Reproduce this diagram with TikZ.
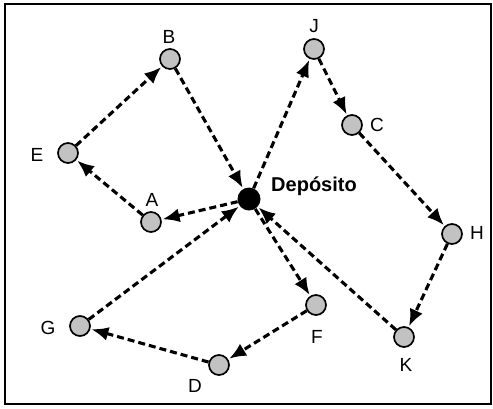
\documentclass[tikz,border=0pt]{standalone}
\usepackage{fontspec}
\setmainfont{Liberation Sans}
\usetikzlibrary{arrows.meta}
\begin{document}
\begin{tikzpicture}[x=1pt,y=-1pt,
  client/.style={circle,draw=black,line width=1.7pt,fill=black!24,minimum size=20pt,inner sep=0pt},
  depot/.style={circle,fill=black,minimum size=23pt,inner sep=0pt},
  lbl/.style={font=\fontsize{19}{21}\selectfont,inner sep=0pt},
  route/.style={line width=3.1pt,dash pattern=on 7pt off 4pt,-{Latex[length=17pt,width=14pt]},shorten >=1pt}]
\useasboundingbox (0,0) rectangle (493,408);
\draw[line width=2pt] (4.5,3.5) rectangle (491,403.5);
\node[depot] (dep) at (249,199) {};
\node[client] (B) at (170,59) {};
\node[client] (J) at (314,49) {};
\node[client] (C) at (352,125) {};
\node[client] (E) at (68,153) {};
\node[client] (A) at (151,222) {};
\node[client] (H) at (452,234) {};
\node[client] (F) at (316,305) {};
\node[client] (G) at (80,326) {};
\node[client] (K) at (404,337) {};
\node[client] (D) at (219,365) {};
\node[lbl] (lB) at (169,37) {B};
\node[lbl] (lJ) at (314,26) {J};
\node[lbl] (lC) at (377,125) {C};
\node[lbl] (lE) at (37,155) {E};
\node[lbl] (lA) at (152,200) {A};
\node[lbl] (lH) at (477,233) {H};
\node[lbl] (lF) at (317,337) {F};
\node[lbl] (lG) at (48,328) {G};
\node[lbl] (lK) at (406,365) {K};
\node[lbl] (lD) at (195,386) {D};
\node[lbl,font=\fontsize{20}{22}\selectfont\bfseries] (ldep) at (314,186) {Depósito};
\draw[route] (B) -- (dep);
\draw[route] (dep) -- (A);
\draw[route] (A) -- (E);
\draw[route] (E) -- (B);
\draw[route] (dep) -- (J);
\draw[route] (J) -- (C);
\draw[route] (C) -- (H);
\draw[route] (H) -- (K);
\draw[route] (K) -- (dep);
\draw[route] (dep) -- (F);
\draw[route] (F) -- (D);
\draw[route] (D) -- (G);
\draw[route] (G) -- (dep);
\end{tikzpicture}
\end{document}
